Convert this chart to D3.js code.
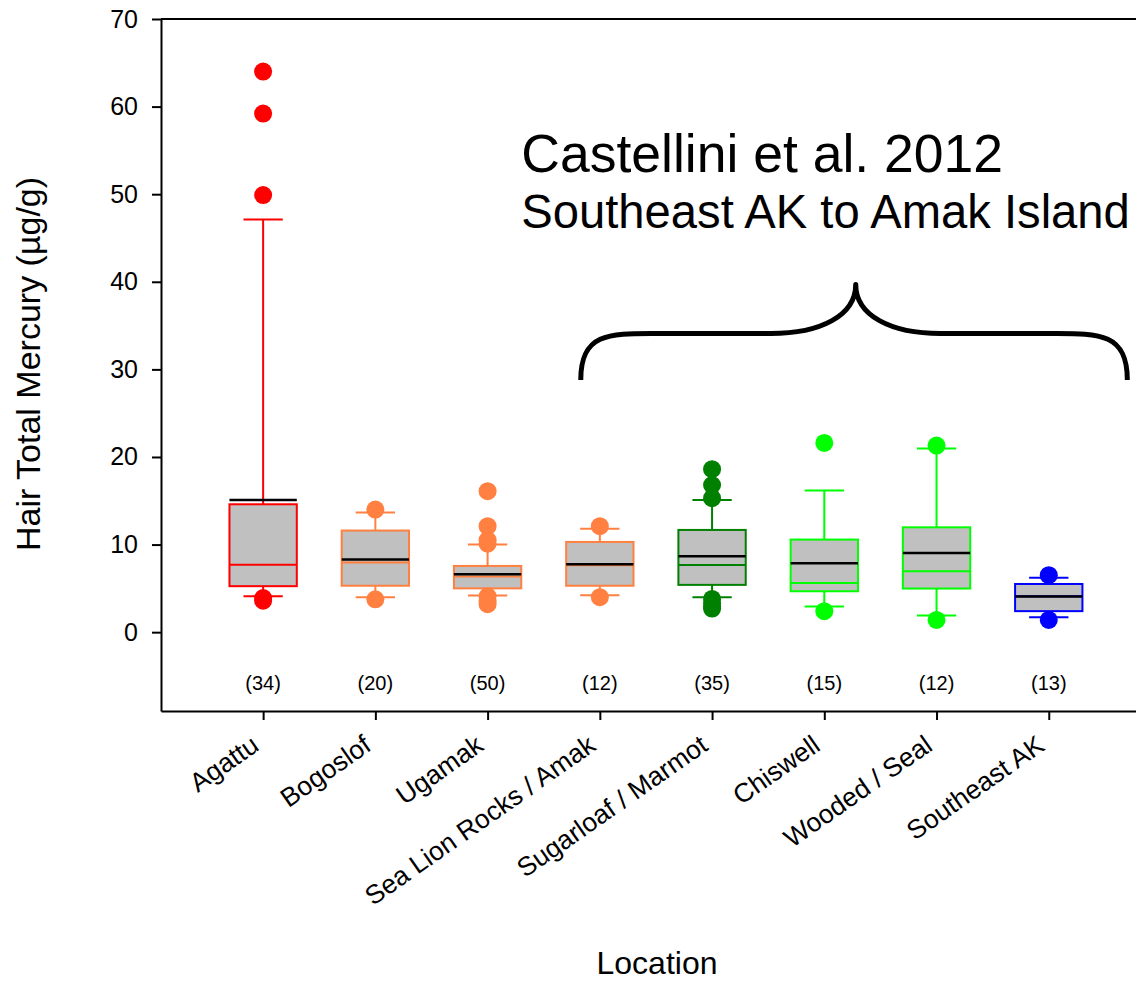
<!DOCTYPE html>
<html>
<head>
<meta charset="utf-8">
<script src="https://cdn.jsdelivr.net/npm/d3@7"></script>
<style>
  html, body { margin: 0; padding: 0; background: #fff; }
  svg { display: block; font-family: "Liberation Sans", Arial, sans-serif; }
</style>
</head>
<body>
<svg id="chart" width="1136" height="982"></svg>
<script>
// Hair total mercury by rookery location (box plots with means)
const categories = ["Agattu", "Bogoslof", "Ugamak", "Sea Lion Rocks / Amak",
                    "Sugarloaf / Marmot", "Chiswell", "Wooded / Seal", "Southeast AK"];
const sampleSizes = [34, 20, 50, 12, 35, 15, 12, 13];
const q1Values     = [5.25, 5.3, 5.0, 5.3, 5.4, 4.67, 4.98, 2.4];
const medianValues = [7.7, 7.95, 6.35, 7.65, 7.68, 5.62, 6.96, 4.1];
const q3Values     = [14.6, 11.6, 7.56, 10.3, 11.67, 10.57, 11.97, 5.5];
const meanValues   = [15.1, 8.3, 6.6, 7.75, 8.67, 7.87, 9.05, 4.07];
const whiskerLow   = [4.1, 4.0, 4.18, 4.2, 4.0, 2.93, 1.9, 1.7];
const whiskerHigh  = [47.1, 13.65, 10.0, 11.8, 15.1, 16.16, 20.98, 6.2];
const outlierValues = [
  [64.0, 59.2, 49.9, 3.9, 3.6],
  [14.0, 3.75],
  [16.1, 12.1, 10.5, 10.1, 4.1, 3.6, 3.2],
  [12.1, 4.0],
  [18.6, 16.8, 15.3, 3.8, 3.3, 2.9, 2.7],
  [21.6, 2.4],
  [21.3, 1.4],
  [6.5, 1.4]
];
const yTickValues = [0, 10, 20, 30, 40, 50, 60, 70];
const seriesColors = ["#ff0000", "#ff8040", "#ff8040", "#ff8040",
                      "#008000", "#00ff00", "#00ff00", "#0000ff"];

const boxes = categories.map((name, i) => ({
  name, pos: i + 1, n: sampleSizes[i], q1: q1Values[i], median: medianValues[i],
  q3: q3Values[i], mean: meanValues[i], lo: whiskerLow[i], hi: whiskerHigh[i],
  outliers: outlierValues[i], color: seriesColors[i]
}));

const svg = d3.select("#chart");
const width = 1136;
const plot = { left: 161, right: 1161, top: 19, bottom: 711 };

const x = d3.scaleLinear().domain([0.09, 9]).range([plot.left, plot.right]);
const y = d3.scaleLinear().domain([-9, 70]).range([plot.bottom, plot.top]);
const step = x(2) - x(1);
const boxW = step * 0.6;
const capW = step * 0.35;

// frame: top line
svg.append("line")
  .attr("x1", plot.left).attr("x2", width)
  .attr("y1", plot.top).attr("y2", plot.top)
  .attr("stroke", "#000").attr("stroke-width", 2);

// y axis
const yAxis = svg.append("g")
  .attr("transform", `translate(${plot.left},0)`)
  .call(d3.axisLeft(y).tickValues(yTickValues).tickSize(9).tickSizeOuter(0).tickPadding(14));
yAxis.select(".domain").attr("stroke-width", 2);
yAxis.selectAll(".tick line").attr("stroke-width", 2);
yAxis.selectAll(".tick text").attr("font-size", 25).attr("fill", "#000")
  .attr("font-family", "Liberation Sans, Arial, sans-serif");

// x axis
const xAxis = svg.append("g")
  .attr("transform", `translate(0,${plot.bottom})`)
  .call(d3.axisBottom(x).tickValues(boxes.map(d => d.pos)).tickSize(9).tickSizeOuter(0)
    .tickFormat(p => categories[p - 1]));
xAxis.select(".domain").attr("stroke-width", 2);
xAxis.selectAll(".tick line").attr("stroke-width", 2);
xAxis.selectAll(".tick text")
  .attr("font-size", 26.5).attr("fill", "#000")
  .attr("font-family", "Liberation Sans, Arial, sans-serif")
  .attr("text-anchor", "end")
  .attr("dy", null).attr("y", null)
  .attr("transform", "translate(-3,38) rotate(-35)");

// boxes
const g = svg.append("g");
const grp = g.selectAll("g.box").data(boxes).join("g").attr("class", "box");

// whiskers
grp.append("line")
  .attr("x1", d => x(d.pos)).attr("x2", d => x(d.pos))
  .attr("y1", d => y(d.hi)).attr("y2", d => y(d.q3))
  .attr("stroke", d => d.color).attr("stroke-width", 2);
grp.append("line")
  .attr("x1", d => x(d.pos)).attr("x2", d => x(d.pos))
  .attr("y1", d => y(d.q1)).attr("y2", d => y(d.lo))
  .attr("stroke", d => d.color).attr("stroke-width", 2);
// caps
grp.append("line")
  .attr("x1", d => x(d.pos) - capW / 2).attr("x2", d => x(d.pos) + capW / 2)
  .attr("y1", d => y(d.hi)).attr("y2", d => y(d.hi))
  .attr("stroke", d => d.color).attr("stroke-width", 2);
grp.append("line")
  .attr("x1", d => x(d.pos) - capW / 2).attr("x2", d => x(d.pos) + capW / 2)
  .attr("y1", d => y(d.lo)).attr("y2", d => y(d.lo))
  .attr("stroke", d => d.color).attr("stroke-width", 2);
// box body
grp.append("rect")
  .attr("x", d => x(d.pos) - boxW / 2).attr("width", boxW)
  .attr("y", d => y(d.q3)).attr("height", d => y(d.q1) - y(d.q3))
  .attr("fill", "#c0c0c0").attr("stroke", d => d.color).attr("stroke-width", 2);
// median
grp.append("line")
  .attr("x1", d => x(d.pos) - boxW / 2).attr("x2", d => x(d.pos) + boxW / 2)
  .attr("y1", d => y(d.median)).attr("y2", d => y(d.median))
  .attr("stroke", d => d.color).attr("stroke-width", 2);
// mean
grp.append("line")
  .attr("x1", d => x(d.pos) - boxW / 2).attr("x2", d => x(d.pos) + boxW / 2)
  .attr("y1", d => y(d.mean)).attr("y2", d => y(d.mean))
  .attr("stroke", "#000").attr("stroke-width", 2.5);
// outliers
grp.selectAll("circle").data(d => d.outliers.map(v => ({ v, pos: d.pos, color: d.color })))
  .join("circle")
  .attr("cx", d => x(d.pos)).attr("cy", d => y(d.v)).attr("r", 9)
  .attr("fill", d => d.color);

// sample sizes
svg.append("g").selectAll("text").data(boxes).join("text")
  .attr("x", d => x(d.pos)).attr("y", y(-6.6))
  .attr("text-anchor", "middle").attr("font-size", 20).attr("fill", "#000")
  .text(d => `(${d.n})`);

// brace grouping the Castellini et al. sites
const bl = x(3.83), br = x(8.70), bm = x(6.28);
const yEnd = y(28.8), yFlat = y(34.1), yPeak = y(39.7);
const bp = d3.path();
bp.moveTo(bl, yEnd);
bp.bezierCurveTo(bl, yFlat - 2, bl + 30, yFlat, bl + 78, yFlat);
bp.lineTo(bm - 85, yFlat);
bp.bezierCurveTo(bm - 35, yFlat, bm, yFlat - 18, bm, yPeak);
bp.bezierCurveTo(bm, yFlat - 18, bm + 35, yFlat, bm + 85, yFlat);
bp.lineTo(br - 78, yFlat);
bp.bezierCurveTo(br - 30, yFlat, br, yFlat - 2, br, yEnd);
svg.append("path").attr("d", bp.toString())
  .attr("fill", "none").attr("stroke", "#000").attr("stroke-width", 5)
  .attr("stroke-linejoin", "round");

// annotation text
svg.append("text").attr("x", x(3.3)).attr("y", y(52.5))
  .attr("font-size", 53.5).attr("fill", "#000").text("Castellini et al. 2012");
svg.append("text").attr("x", x(3.3)).attr("y", y(46.1))
  .attr("font-size", 47.2).attr("fill", "#000").text("Southeast AK to Amak Island");

// axis titles
svg.append("text")
  .attr("transform", `translate(40,364) rotate(-90)`)
  .attr("text-anchor", "middle").attr("font-size", 34).attr("fill", "#000")
  .text("Hair Total Mercury (µg/g)");
svg.append("text")
  .attr("x", 657).attr("y", 974)
  .attr("text-anchor", "middle").attr("font-size", 32).attr("fill", "#000")
  .text("Location");
</script>
</body>
</html>
